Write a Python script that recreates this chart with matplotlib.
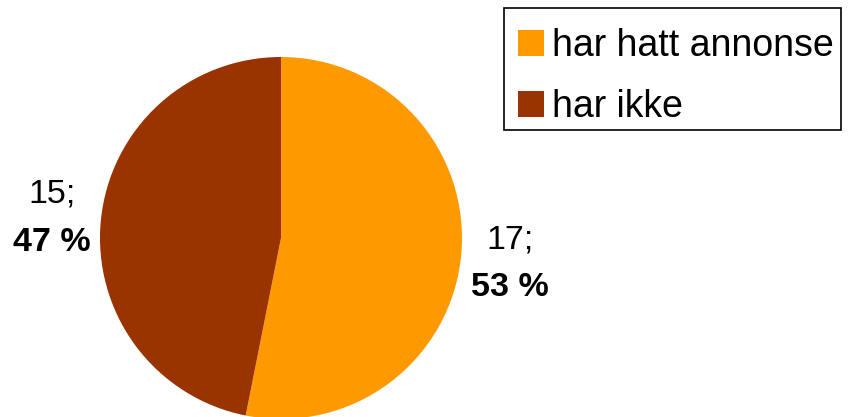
import numpy as np
import matplotlib.pyplot as plt
from matplotlib.patches import Patch, Rectangle

plt.rcParams['font.family'] = ['Liberation Sans', 'DejaVu Sans']

categories = ['har hatt annonse', 'har ikke']
counts = [17, 15]
colors = ['#FF9900', '#993300']

W, H = 849, 417
fig = plt.figure(figsize=(W / 100, H / 100), dpi=100)

# pie centre (281, 238) px, radius 181 px
cx, cy, r = 281, 238, 181
ax = fig.add_axes([(cx - r) / W, (H - cy - r) / H, 2 * r / W, 2 * r / H])
wedges, _ = ax.pie(counts, colors=colors, startangle=90, counterclock=False,
                   radius=1, wedgeprops=dict(linewidth=0))
ax.set_xlim(-1, 1)
ax.set_ylim(-1, 1)
ax.set_aspect('equal')
ax.axis('off')

total = sum(counts)
dist = 1.27
off = 24 / r
shift = -3 / r
for w, c in zip(wedges, counts):
    ang = np.deg2rad((w.theta1 + w.theta2) / 2)
    x, y = dist * np.cos(ang), dist * np.sin(ang) + shift
    pct = round(100 * c / total)
    ax.text(x, y + off, f'{c};', ha='center', va='center', fontsize=24.5, clip_on=False)
    ax.text(x, y - off, f'{pct} %', ha='center', va='center', fontsize=24.5,
            fontweight='bold', clip_on=False)

# legend box drawn separately so the padding can be set freely
fig.patches.append(Rectangle((504 / W, 1 - 130 / H), 337 / W, 122 / H,
                             transform=fig.transFigure, facecolor='white',
                             edgecolor='black', linewidth=1.2, zorder=0))
handles = [Patch(facecolor=col, edgecolor='none') for col in colors]
leg = fig.legend(handles, categories, loc='upper left',
                 bbox_to_anchor=(518 / W, 1 - 28 / H), fontsize=27,
                 frameon=False,
                 handlelength=0.7, handleheight=0.7, handletextpad=0.22,
                 borderpad=0, labelspacing=0.67, borderaxespad=0)

fig.savefig('out.png', dpi=100)
